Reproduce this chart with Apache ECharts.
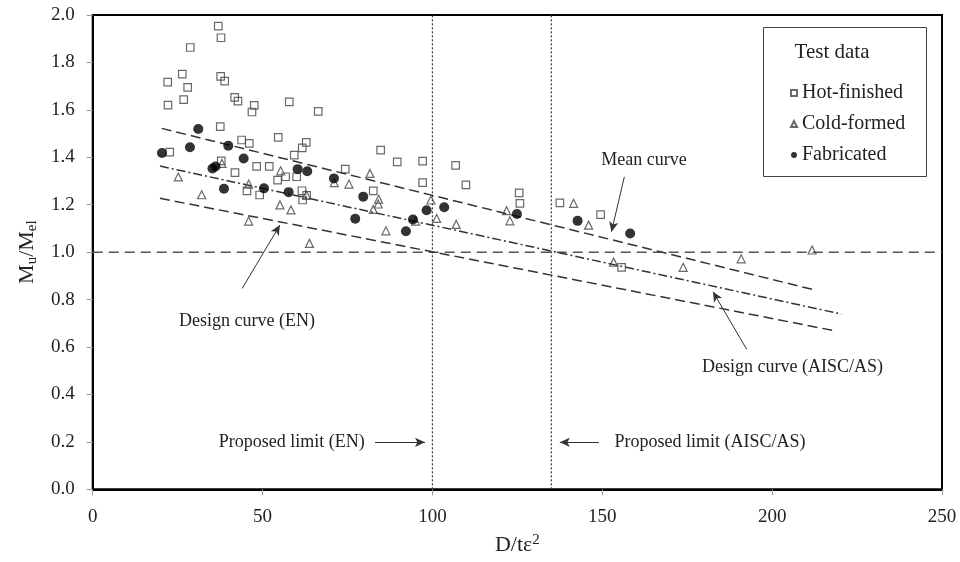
<!DOCTYPE html>
<html>
<head>
<meta charset="utf-8">
<script src="https://cdn.jsdelivr.net/npm/echarts@6/dist/echarts.min.js"></script>
<style>
html,body{margin:0;padding:0;background:#fff;}
#chart{width:960px;height:562px;}
</style>
</head>
<body>
<div id="chart"></div>
<script>
// ---- Data ----
const hotFinished = [
  [36.96,1.953],[37.76,1.904],[28.72,1.863],[26.37,1.751],[22.07,1.717],[27.96,1.695],
  [37.67,1.741],[38.85,1.721],[26.78,1.643],[22.16,1.620],[41.79,1.653],[42.76,1.637],
  [47.56,1.619],[46.88,1.591],[57.86,1.634],[66.39,1.594],[37.55,1.529],[43.85,1.473],
  [46.09,1.459],[54.62,1.484],[62.86,1.463],[61.68,1.440],[59.33,1.409],[22.66,1.422],
  [74.34,1.350],[37.85,1.385],[48.26,1.362],[51.97,1.362],[41.88,1.335],[56.80,1.318],
  [60.04,1.318],[54.44,1.304],[61.59,1.259],[45.41,1.258],[49.15,1.241],[62.98,1.239],
  [61.80,1.220],[84.76,1.430],[89.64,1.381],[97.12,1.384],[106.83,1.366],[97.12,1.293],
  [109.86,1.284],[82.58,1.258],[125.54,1.250],[125.75,1.206],[137.52,1.208],[149.50,1.158],
  [155.68,0.936]
];
const coldFormed = [
  [25.19,1.317],[38.05,1.374],[55.33,1.343],[32.08,1.242],[45.91,1.287],[71.10,1.293],
  [75.43,1.287],[62.92,1.241],[55.12,1.199],[58.36,1.178],[45.91,1.131],[63.80,1.037],
  [81.61,1.332],[84.17,1.223],[84.05,1.203],[82.58,1.180],[99.56,1.220],[101.24,1.142],
  [107.00,1.117],[86.32,1.090],[95.06,1.131],[121.84,1.175],[122.80,1.132],[141.55,1.206],
  [145.97,1.114],[153.33,0.958],[173.81,0.936],[190.88,0.972],[211.77,1.009]
];
const fabricated = [
  [31.08,1.519],[20.39,1.418],[28.63,1.442],[39.91,1.449],[44.44,1.395],[35.26,1.353],
  [36.14,1.361],[60.33,1.350],[63.15,1.341],[71.01,1.311],[38.64,1.267],[50.41,1.269],
  [57.68,1.253],[79.64,1.234],[77.28,1.141],[94.26,1.138],[92.20,1.088],[98.29,1.177],
  [103.47,1.189],[124.87,1.161],[142.73,1.132],[158.21,1.079]
];
const meanCurve = [[20.3,1.522],[211.8,0.843]];
const designAISC = [[19.8,1.363],[220.4,0.739]];
const designEN = [[19.8,1.227],[218.9,0.667]];
const unityLine = [[0,1],[250,1]];
const limitEN = [[100,0],[100,2]];
const limitAISC = [[135,0],[135,2]];
// annotation arrows (data coordinates: start -> head)
const arrowMean = [[156.5,1.318],[152.7,1.086]];
const arrowEN = [[44.0,0.847],[55.1,1.114]];
const arrowAISC = [[192.5,0.590],[182.6,0.833]];
const arrowLimitEN = [[83.1,0.198],[97.8,0.198]];
const arrowLimitAISC = [[149.0,0.198],[137.5,0.198]];
const seriesNames = ['Hot-finished','Cold-formed','Fabricated'];

const FONT = '"Liberation Serif", "DejaVu Serif", serif';
const chart = echarts.init(document.getElementById('chart'), null, {renderer:'canvas'});

function arrow(pair){ return [{coord:pair[0]},{coord:pair[1]}]; }

const option = {
  animation:false,
  backgroundColor:'#fff',
  textStyle:{fontFamily:FONT},
  grid:{left:92.7, right:18, top:15, bottom:72.7, show:true, borderColor:'#000', borderWidth:2, containLabel:false},
  xAxis:{
    type:'value', min:0, max:250, interval:50,
    name:'{a|D/tε}{sup|2}', nameLocation:'middle', nameGap:43,
    nameTextStyle:{rich:{
      a:{fontFamily:FONT,fontSize:22,color:'#222'},
      sup:{fontFamily:FONT,fontSize:15,color:'#222',verticalAlign:'top',padding:[0,0,10,0]}
    }},
    axisLine:{show:true,lineStyle:{color:'#000',width:2}},
    axisTick:{show:true,length:6,inside:false,lineStyle:{color:'#999',width:1}},
    axisLabel:{fontFamily:FONT,fontSize:19,color:'#222',margin:18},
    splitLine:{show:false}
  },
  yAxis:{
    type:'value', min:0, max:2, interval:0.2,
    name:'{a|M}{sub|u}{a|/M}{sub|el}', nameLocation:'middle', nameGap:50, nameRotate:90,
    nameTextStyle:{rich:{
      a:{fontFamily:FONT,fontSize:22,color:'#222'},
      sub:{fontFamily:FONT,fontSize:15,color:'#222',verticalAlign:'bottom',padding:[10,0,0,0]}
    }},
    axisLine:{show:true,lineStyle:{color:'#000',width:2}},
    axisTick:{show:true,length:6,inside:false,lineStyle:{color:'#999',width:1}},
    axisLabel:{fontFamily:FONT,fontSize:19,color:'#222',margin:18,formatter:v=>v.toFixed(1)},
    splitLine:{show:false}
  },
  legend:{
    data:seriesNames, orient:'vertical', left:785, top:78, itemWidth:6, itemHeight:6, itemGap:11,
    textStyle:{fontFamily:FONT,fontSize:20,color:'#222'},
    selectedMode:false
  },
  graphic:[
    {type:'rect', shape:{x:763.5,y:27.5,width:163,height:149}, style:{fill:'none',stroke:'#444',lineWidth:1}, z:100},
    {type:'text', x:832, y:52, style:{text:'Test data',font:'21px '+FONT,fill:'#222',textAlign:'center',textVerticalAlign:'middle'}, z:100},
    {type:'text', x:644, y:160, style:{text:'Mean curve',font:'18px '+FONT,fill:'#222',textAlign:'center',textVerticalAlign:'middle'}, z:100},
    {type:'text', x:247, y:321, style:{text:'Design curve (EN)',font:'18px '+FONT,fill:'#222',textAlign:'center',textVerticalAlign:'middle'}, z:100},
    {type:'text', x:792.5, y:367, style:{text:'Design curve (AISC/AS)',font:'18px '+FONT,fill:'#222',textAlign:'center',textVerticalAlign:'middle'}, z:100},
    {type:'text', x:291.7, y:442, style:{text:'Proposed limit (EN)',font:'18px '+FONT,fill:'#222',textAlign:'center',textVerticalAlign:'middle'}, z:100},
    {type:'text', x:710, y:442, style:{text:'Proposed limit (AISC/AS)',font:'18px '+FONT,fill:'#222',textAlign:'center',textVerticalAlign:'middle'}, z:100}
  ],
  series:[
    {type:'line', data:unityLine, symbol:'none', silent:true, z:1,
     lineStyle:{color:'#555',width:1.5,type:[10,6]}},
    {type:'line', data:limitEN, symbol:'none', silent:true, z:1,
     lineStyle:{color:'#333',width:1.2,type:[2,2]}},
    {type:'line', data:limitAISC, symbol:'none', silent:true, z:1,
     lineStyle:{color:'#333',width:1.2,type:[2,2]}},
    {type:'line', data:meanCurve, symbol:'none', silent:true, z:2,
     lineStyle:{color:'#333',width:1.5,type:[10,5]}},
    {type:'line', data:designAISC, symbol:'none', silent:true, z:2,
     lineStyle:{color:'#333',width:1.5,type:[9,3,2,3]}},
    {type:'line', data:designEN, symbol:'none', silent:true, z:2,
     lineStyle:{color:'#333',width:1.5,type:[10,5]},
     markLine:{silent:true, symbol:['none','arrow'], symbolSize:[7,10], label:{show:false},
       lineStyle:{type:'solid',color:'#333',width:1},
       data:[arrow(arrowMean),arrow(arrowEN),arrow(arrowAISC),arrow(arrowLimitEN),arrow(arrowLimitAISC)]}},
    {name:'Hot-finished', type:'scatter', data:hotFinished, symbol:'rect', symbolSize:7.5, z:3,
     itemStyle:{color:'rgba(255,255,255,0)',borderColor:'#444',borderWidth:1.2}},
    {name:'Cold-formed', type:'scatter', data:coldFormed, symbol:'triangle', symbolSize:8, z:3,
     itemStyle:{color:'rgba(255,255,255,0)',borderColor:'#444',borderWidth:1.2}},
    {name:'Fabricated', type:'scatter', data:fabricated, symbol:'circle', symbolSize:10, z:4,
     itemStyle:{color:'#000'}}
  ]
};
chart.setOption(option);
</script>
</body>
</html>
